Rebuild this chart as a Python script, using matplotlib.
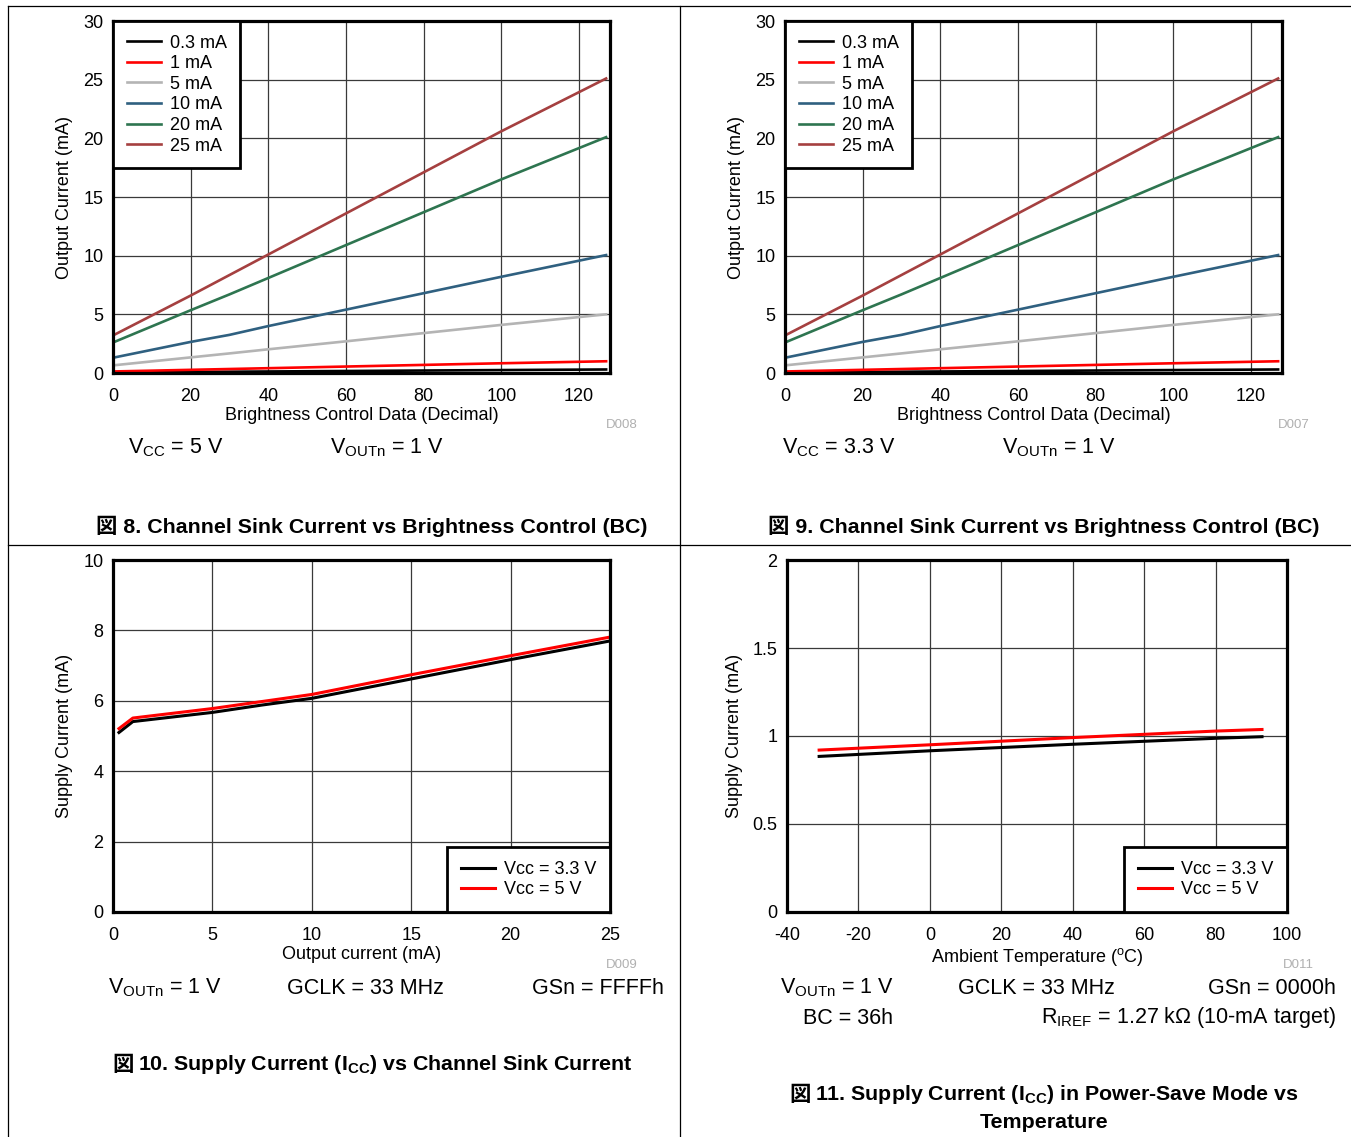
import matplotlib
matplotlib.use("Agg")
import matplotlib.pyplot as plt
from matplotlib.lines import Line2D

plt.rcParams['font.family'] = ['Liberation Sans', 'Noto Sans CJK JP', 'DejaVu Sans']
plt.rcParams['mathtext.fontset'] = 'custom'
plt.rcParams['mathtext.rm'] = 'Liberation Sans'
plt.rcParams['mathtext.it'] = 'Liberation Sans:italic'
plt.rcParams['mathtext.bf'] = 'Liberation Sans:bold'

# ---- data: sink current vs BC (same for Vcc 5 V and 3.3 V)
bc = [0, 20, 30, 40, 60, 80, 100, 127]
bc_labels = ['0.3 mA', '1 mA', '5 mA', '10 mA', '20 mA', '25 mA']
bc_colors = ['#000000', '#ff0000', '#b4b4b4', '#2f6080', '#2e7550', '#a54040']
i_03 = [0.04, 0.09, 0.11, 0.13, 0.17, 0.21, 0.25, 0.30]
i_1 = [0.13, 0.27, 0.34, 0.41, 0.55, 0.69, 0.83, 1.0]
i_5 = [0.65, 1.33, 1.67, 2.02, 2.7, 3.4, 4.1, 5.0]
i_10 = [1.3, 2.65, 3.25, 4.0, 5.4, 6.8, 8.2, 10.05]
i_20 = [2.6, 5.35, 6.7, 8.1, 10.9, 13.7, 16.5, 20.1]
i_25 = [3.2, 6.6, 8.35, 10.1, 13.6, 17.1, 20.6, 25.1]
bc_series = [i_03, i_1, i_5, i_10, i_20, i_25]

# ---- data: supply current vs output current
iout = [0.3, 1, 5, 7.5, 10, 15, 20, 25]
icc_33 = [5.10, 5.41, 5.67, 5.88, 6.07, 6.62, 7.17, 7.70]
icc_5 = [5.21, 5.51, 5.78, 5.98, 6.18, 6.74, 7.28, 7.81]

# ---- data: power-save supply current vs temperature
temp = [-31, 0, 40, 80, 93]
ips_33 = [0.884, 0.916, 0.953, 0.987, 0.996]
ips_5 = [0.920, 0.950, 0.991, 1.028, 1.037]

W, H = 1351, 1137
fig = plt.figure(figsize=(W / 100, H / 100), dpi=100)


def fx(x):
    return x / W


def fy(y):
    return 1 - y / H


def make_ax(x0, x1, y0, y1):
    ax = fig.add_axes([fx(x0), fy(y1), fx(x1 - x0), (y1 - y0) / H])
    for s in ax.spines.values():
        s.set_linewidth(2.3)
    ax.grid(True, color='#3a3a3a', linewidth=0.9)
    ax.set_axisbelow(True)
    ax.tick_params(length=0, labelsize=13)
    ax.tick_params(axis='x', pad=11)
    ax.tick_params(axis='y', pad=7)
    return ax


def txt(x, y, s, size=15.5, **kw):
    fig.text(fx(x), fy(y), s, fontsize=size, va='center', **kw)


def leg(ax, loc):
    lg = ax.legend(loc=loc, borderaxespad=0, fancybox=False, framealpha=1,
                   edgecolor='black', fontsize=13, handlelength=1.9,
                   labelspacing=0.2, borderpad=0.75, handletextpad=0.5)
    lg.get_frame().set_linewidth(2)
    return lg


# panels 8 and 9
for x0, x1, tag, vcc, vx in [(113, 610, 'D008', 'V$_\\mathrm{CC}$ = 5 V', 128),
                             (785, 1282, 'D007', 'V$_\\mathrm{CC}$ = 3.3 V', 782)]:
    ax = make_ax(x0, x1, 21, 373)
    for y, lab, c in zip(bc_series, bc_labels, bc_colors):
        ax.plot(bc, y, color=c, lw=1.9, label=lab)
    ax.set_xlim(0, 128)
    ax.set_ylim(0, 30)
    ax.set_xticks(range(0, 121, 20))
    ax.set_yticks(range(0, 31, 5))
    ax.set_xlabel('Brightness Control Data (Decimal)', fontsize=13, labelpad=1)
    ax.set_ylabel('Output Current (mA)', fontsize=13, labelpad=7)
    leg(ax, 'upper left')
    txt(x1 + 12, 425, tag, size=9.5, color='#b0b0b0', ha='center')
    txt(vx, 448, vcc)
    txt(x0 + 217, 448, 'V$_\\mathrm{OUTn}$ = 1 V')

txt(372, 526, '図 8. Channel Sink Current vs Brightness Control (BC)', size=15.4, weight='bold', ha='center')
txt(1044, 526, '図 9. Channel Sink Current vs Brightness Control (BC)', size=15.4, weight='bold', ha='center')

# panel 10
ax = make_ax(113, 610, 560, 912)
ax.plot(iout, icc_33, color='black', lw=2.2, label='Vcc = 3.3 V')
ax.plot(iout, icc_5, color='#ff0000', lw=2.2, label='Vcc = 5 V')
ax.set_xlim(0, 25)
ax.set_ylim(0, 10)
ax.set_xticks(range(0, 26, 5))
ax.set_yticks(range(0, 11, 2))
ax.set_xlabel('Output current (mA)', fontsize=13, labelpad=1)
ax.set_ylabel('Supply Current (mA)', fontsize=13, labelpad=7)
leg(ax, 'lower right')
txt(622, 965, 'D009', size=9.5, color='#b0b0b0', ha='center')
txt(108, 988, 'V$_\\mathrm{OUTn}$ = 1 V')
txt(287, 988, 'GCLK = 33 MHz')
txt(664, 988, 'GSn = FFFFh', ha='right')
txt(112, 1065, '図', size=15.4, weight='bold')
txt(138, 1065, '10. Supply Current (I$_\\mathbf{CC}$) vs Channel Sink Current', size=15.4, weight='bold')

# panel 11
ax = make_ax(787, 1287, 560, 912)
ax.plot(temp, ips_33, color='black', lw=2.2, label='Vcc = 3.3 V')
ax.plot(temp, ips_5, color='#ff0000', lw=2.2, label='Vcc = 5 V')
ax.set_xlim(-40, 100)
ax.set_ylim(0, 2)
ax.set_xticks(range(-40, 101, 20))
ax.set_xticklabels([str(v) for v in range(-40, 101, 20)])
ax.set_yticks([0, 0.5, 1, 1.5, 2])
ax.set_yticklabels(['0', '0.5', '1', '1.5', '2'])
ax.set_xlabel('Ambient Temperature ($^\\mathrm{o}$C)', fontsize=13, labelpad=1)
ax.set_ylabel('Supply Current (mA)', fontsize=13, labelpad=7)
leg(ax, 'lower right')
txt(1298, 965, 'D011', size=9.5, color='#b0b0b0', ha='center')
txt(780, 988, 'V$_\\mathrm{OUTn}$ = 1 V')
txt(958, 988, 'GCLK = 33 MHz')
txt(1336, 988, 'GSn = 0000h', ha='right')
txt(893, 1018, 'BC = 36h', ha='right')
txt(1336, 1018, 'R$_\\mathrm{IREF}$ = 1.27 kΩ (10-mA target)', ha='right')
txt(789, 1095, '図', size=15.4, weight='bold')
txt(815, 1095, '11. Supply Current (I$_\\mathbf{CC}$) in Power-Save Mode vs', size=15.4, weight='bold')
txt(1044, 1122, 'Temperature', size=15.4, weight='bold', ha='center')

# table borders
for xs, ys in [([8, W], [6, 6]), ([8, 8], [6, H]), ([680, 680], [6, H]), ([8, W], [545, 545])]:
    fig.add_artist(Line2D([fx(v) for v in xs], [fy(v) for v in ys], color='black', lw=0.9))

fig.savefig('out.png', dpi=100)
